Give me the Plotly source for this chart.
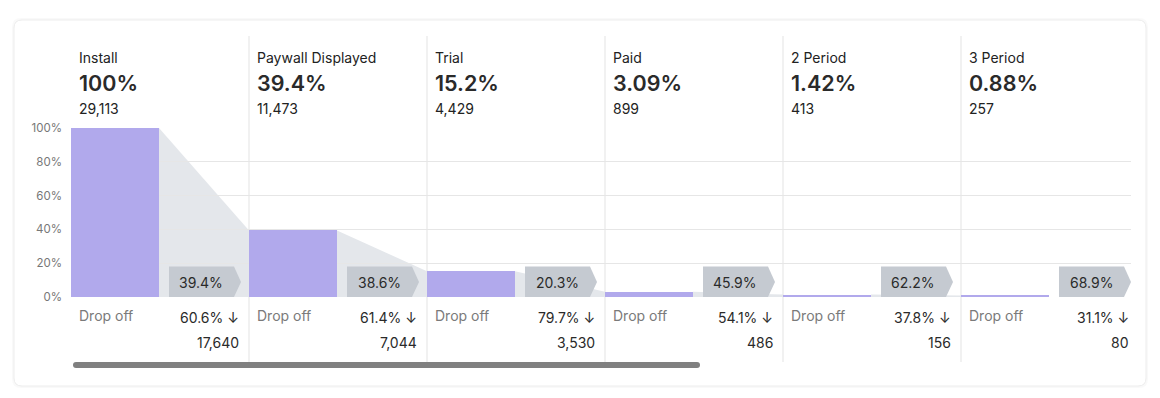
import plotly.graph_objects as go

# ---------------- data ----------------
stages = ["Install", "Paywall Displayed", "Trial", "Paid", "2 Period", "3 Period"]
stage_pct = [100, 39.4, 15.2, 3.09, 1.42, 0.88]
stage_pct_labels = ["100%", "39.4%", "15.2%", "3.09%", "1.42%", "0.88%"]
stage_counts = [29113, 11473, 4429, 899, 413, 257]
conversion_pct = [39.4, 38.6, 20.3, 45.9, 62.2, 68.9]
dropoff_pct = [60.6, 61.4, 79.7, 54.1, 37.8, 31.1]
dropoff_counts = [17640, 7044, 3530, 486, 156, 80]
y_ticks = [0, 20, 40, 60, 80, 100]

# ---------------- layout geometry (page pixels) ----------------
OFF = 8  # default page body margin
W, H = 1160 - OFF, 398 - OFF
L, R, T, B = 71, 1131, 128, 297  # plot area in page pixels
COL = 178.0
XMAX = (R - L) / COL
FONT = "Inter"
SMALL = 14


def px(x):
    return (x - L) / (R - L)


def py(y):
    return (B - y) / (B - T)


def ydata(y):
    return (B - y) / (B - T) * 100.0


def colx(i, off):
    return i + off / COL


bar_w = 88 / COL
n = len(stages)

fig = go.Figure()

fig.add_trace(go.Bar(
    x=[colx(i, 44) for i in range(n)],
    y=stage_pct,
    width=[bar_w] * n,
    marker=dict(color="#b1a9ec", line=dict(width=0)),
    hoverinfo="skip",
    showlegend=False,
))

shapes = []


def rounded(x0, y0, x1, y1, r):
    X0, X1 = px(x0), px(x1)
    Y0, Y1 = py(y0), py(y1)
    rx = r / (R - L)
    ry = r / (B - T)
    return (f"M {X0+rx},{Y0} L {X1-rx},{Y0} Q {X1},{Y0} {X1},{Y0-ry} "
            f"L {X1},{Y1+ry} Q {X1},{Y1} {X1-rx},{Y1} L {X0+rx},{Y1} "
            f"Q {X0},{Y1} {X0},{Y1+ry} L {X0},{Y0-ry} Q {X0},{Y0} {X0+rx},{Y0} Z")


# card
shapes.append(dict(type="path", xref="paper", yref="paper", layer="below",
                   path=rounded(12, 18, 1148, 388, 9), fillcolor="rgba(0,0,0,0.025)",
                   line=dict(width=0)))
shapes.append(dict(type="path", xref="paper", yref="paper", layer="below",
                   path=rounded(14, 20, 1146, 386, 8), fillcolor="#ffffff",
                   line=dict(color="#ededed", width=1)))

# funnel connectors
for i in range(n - 1):
    x0 = colx(i, 88)
    x1 = i + 1
    shapes.append(dict(
        type="path", xref="x", yref="y", layer="below",
        path=f"M {x0},{stage_pct[i]} L {x1},{stage_pct[i+1]} L {x1},0 L {x0},0 Z",
        fillcolor="#e4e7eb", line=dict(width=0)))

# column separators
for i in range(1, n):
    shapes.append(dict(type="line", xref="x", yref="paper", layer="below",
                       x0=i, x1=i, y0=py(36), y1=py(362),
                       line=dict(color="#e3e3e3", width=1)))

# conversion arrow badges
yt, ym, yb = ydata(266.5), ydata(282), 0
for i in range(n):
    a, b, c = colx(i, 98), colx(i, 163), colx(i, 170)
    shapes.append(dict(
        type="path", xref="x", yref="y", layer="above",
        path=f"M {a},{yt} L {b},{yt} L {c},{ym} L {b},{yb} L {a},{yb} Z",
        fillcolor="#c5cad1", line=dict(width=0)))

# scrollbar
sx0, sx1, sy0, sy1 = 73, 700, 362, 368
r = 3
shapes.append(dict(
    type="path", xref="paper", yref="paper", layer="above",
    path=(f"M {px(sx0+r)},{py(sy0)} L {px(sx1-r)},{py(sy0)} "
          f"Q {px(sx1)},{py(sy0)} {px(sx1)},{py((sy0+sy1)/2)} "
          f"Q {px(sx1)},{py(sy1)} {px(sx1-r)},{py(sy1)} L {px(sx0+r)},{py(sy1)} "
          f"Q {px(sx0)},{py(sy1)} {px(sx0)},{py((sy0+sy1)/2)} "
          f"Q {px(sx0)},{py(sy0)} {px(sx0+r)},{py(sy0)} Z"),
    fillcolor="#808080", line=dict(width=0)))

annotations = []
for i in range(n):
    xl = colx(i, 6)
    xr = colx(i, 169.5)
    annotations += [
        dict(x=xl, y=py(57), xref="x", yref="paper", text=stages[i], showarrow=False,
             xanchor="left", yanchor="middle",
             font=dict(family=FONT, size=SMALL, color="#222222")),
        dict(x=xl - 0.5 / COL, y=py(83), xref="x", yref="paper", text=stage_pct_labels[i],
             showarrow=False, xanchor="left", yanchor="middle",
             font=dict(family=FONT, size=21.5, color="#2a2a2a", weight=600)),
        dict(x=xl, y=py(108), xref="x", yref="paper", text=f"{stage_counts[i]:,}",
             showarrow=False, xanchor="left", yanchor="middle",
             font=dict(family=FONT, size=SMALL, color="#222222")),
        dict(x=colx(i, 130), y=ym, xref="x", yref="y", text=f"{conversion_pct[i]}%",
             showarrow=False, xanchor="center", yanchor="middle",
             font=dict(family=FONT, size=SMALL, color="#2a2a2a")),
        dict(x=xl, y=py(315), xref="x", yref="paper", text="Drop off", showarrow=False,
             xanchor="left", yanchor="middle",
             font=dict(family=FONT, size=SMALL, color="#7a7a7a")),
        dict(x=xr, y=py(317), xref="x", yref="paper", text=f"{dropoff_pct[i]}% ↓",
             showarrow=False, xanchor="right", yanchor="middle",
             font=dict(family=FONT, size=SMALL, color="#2a2a2a")),
        dict(x=xr, y=py(342), xref="x", yref="paper", text=f"{dropoff_counts[i]:,}",
             showarrow=False, xanchor="right", yanchor="middle",
             font=dict(family=FONT, size=SMALL, color="#2a2a2a")),
    ]

fig.update_layout(
    width=W, height=H,
    margin=dict(l=L - OFF, r=(W + OFF) - R, t=T - OFF, b=(H + OFF) - B, pad=0),
    paper_bgcolor="#ffffff",
    plot_bgcolor="rgba(0,0,0,0)",
    showlegend=False,
    bargap=0,
    shapes=shapes,
    annotations=annotations,
    xaxis=dict(range=[0, XMAX], visible=False, fixedrange=True),
    yaxis=dict(range=[0, 100], tickvals=y_ticks, ticktext=[f"{v}%" for v in y_ticks],
               showgrid=True, gridcolor="#e6e6e6", gridwidth=1, zeroline=False,
               showline=False, ticks="", ticklabelstandoff=8,
               tickfont=dict(family=FONT, size=11.5, color="#777777"), fixedrange=True),
)

fig.write_html("out.html")
